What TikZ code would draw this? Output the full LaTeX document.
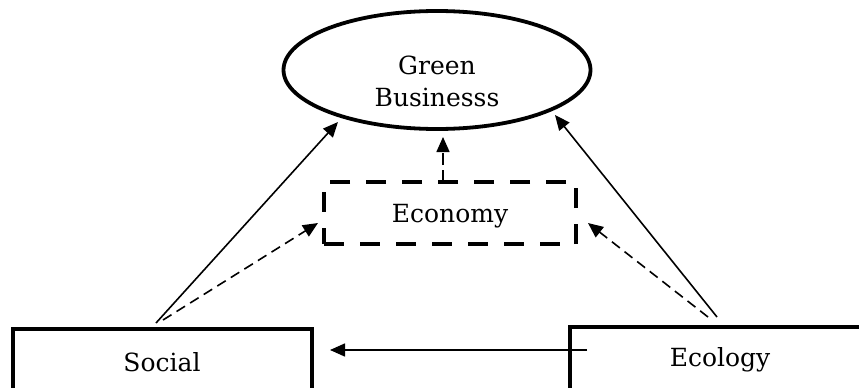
\documentclass[tikz,border=0pt]{standalone}
\usepackage{fontspec}
\setmainfont{DejaVu Serif}
\usetikzlibrary{arrows.meta,shapes.geometric}
\tikzset{
  lbl/.style={font=\fontsize{25}{32}\selectfont, align=center},
  thickbox/.style={draw, line width=4.2pt, rectangle, inner sep=0pt},
  ell/.style={draw, ellipse, line width=3.8pt, inner sep=0pt},
  dbox/.style={draw, line width=4.2pt, rectangle, inner sep=0pt, dash pattern=on 20pt off 16pt},
  arr/.style={line width=1.6pt, -{Triangle[length=15pt,width=13pt]}},
  darr/.style={arr, dash pattern=on 10pt off 6pt},
}
\begin{document}
\begin{tikzpicture}[x=1pt,y=-1pt]
\useasboundingbox (0,0) rectangle (859,388);
\clip (0,0) rectangle (859,388);
\fill[white] (0,0) rectangle (859,388);
% nodes
\node[ell, minimum width=307pt, minimum height=118pt] (gb) at (437,70) {};
\node[lbl] (gbt) at (437,81) {Green\\Businesss};
\node[dbox, minimum width=252pt, minimum height=62pt] (eco) at (450,213) {};
\node[lbl] (ecot) at (450,216) {Economy};
\node[thickbox, minimum width=299pt, minimum height=64pt] (soc) at (162.5,361) {};
\node[lbl] (soct) at (162,362) {Social};
\node[thickbox, minimum width=300pt, minimum height=66pt] (ecl) at (720,360) {};
\node[lbl] (eclt) at (720,360) {Ecology};
% connector end points
\coordinate (s1) at (156,323);
\coordinate (s2) at (163,320);
\coordinate (e1) at (717,317);
\coordinate (e2) at (708,317);
\coordinate (eh) at (587,350);
\coordinate (sh) at (330,350);
\coordinate (g1) at (338,122);
\coordinate (g2) at (555,115);
\coordinate (c1) at (318,223);
\coordinate (c2) at (588,223);
\coordinate (et) at (443,182);
\coordinate (gb3) at (443,137);
% connectors
\draw[arr] (s1) -- (g1);
\draw[darr] (s2) -- (c1);
\draw[arr] (e1) -- (g2);
\draw[darr] (e2) -- (c2);
\draw[darr, dash pattern=on 12pt off 5pt] (et) -- (gb3);
\draw[arr] (eh) -- (sh);
\end{tikzpicture}
\end{document}
